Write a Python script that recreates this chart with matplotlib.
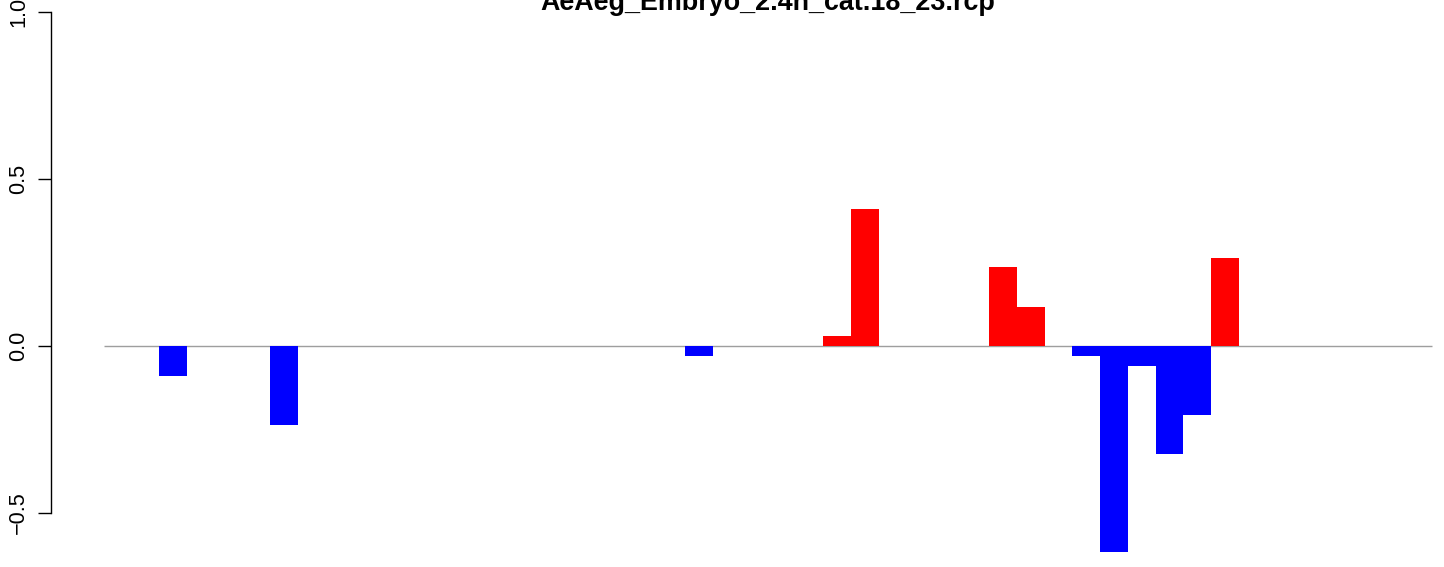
import matplotlib
matplotlib.use("Agg")
import matplotlib.pyplot as plt

plt.rcParams['font.family'] = ['Liberation Sans', 'DejaVu Sans']

title = "AeAeg_Embryo_2.4h_cat.18_23.rcp"

# one value per bin (48 bins), mostly zero
values = [0, 0, -0.089, 0, 0, 0, -0.236, 0, 0, 0,
          0, 0, 0, 0, 0, 0, 0, 0, 0, 0,
          0, -0.029, 0, 0, 0, 0, 0.030, 0.410, 0, 0,
          0, 0, 0.2365, 0.117, 0, -0.029, -0.616, -0.059, -0.322, -0.207,
          0.263, 0, 0, 0, 0, 0, 0, 0]
yticks = [-0.5, 0.0, 0.5, 1.0]
ytick_labels = ["\u22120.5", "0.0", "0.5", "1.0"]

W, H = 1444, 567
fig = plt.figure(figsize=(W / 100, H / 100), dpi=100)

n = len(values)
bw = 1328.5 / n  # pixel width of a bar
data_left = 103.8
left_px = data_left - 0.04 * n * bw
width_px = 1.08 * n * bw
zero_px = 346
ppu = 334  # pixels per unit
ylo, yhi = -0.7, 1.05
bottom_px = zero_px - ylo * ppu
ax = fig.add_axes([left_px / W, (H - bottom_px) / H, width_px / W, (yhi - ylo) * ppu / H])
ax.set_xlim(-0.04 * n, 1.04 * n)
ax.set_ylim(ylo, yhi)

ax.hlines(0, 0, n, color="#9e9e9e", linewidth=1.0, zorder=1)
colors = ["#ff0000" if v > 0 else "#0000ff" for v in values]
ax.bar([i + 0.5 for i in range(n)], values, width=1.0, color=colors, linewidth=0, zorder=2)

for s in ["top", "right", "bottom"]:
    ax.spines[s].set_visible(False)
ax.spines["left"].set_bounds(yticks[0], yticks[-1])
ax.spines["left"].set_linewidth(1.0)
ax.set_xticks([])
ax.set_yticks(yticks)
ax.set_yticklabels(ytick_labels, rotation=90, va="center", fontsize=15.6)
ax.tick_params(axis="y", length=9.4, width=1.0, pad=6)
ax.patch.set_visible(False)

fig.text(768 / W, 1 - 10 / H, title, ha="center", va="baseline",
         fontsize=19.4, fontweight="bold")

fig.savefig("out.png", dpi=100)
